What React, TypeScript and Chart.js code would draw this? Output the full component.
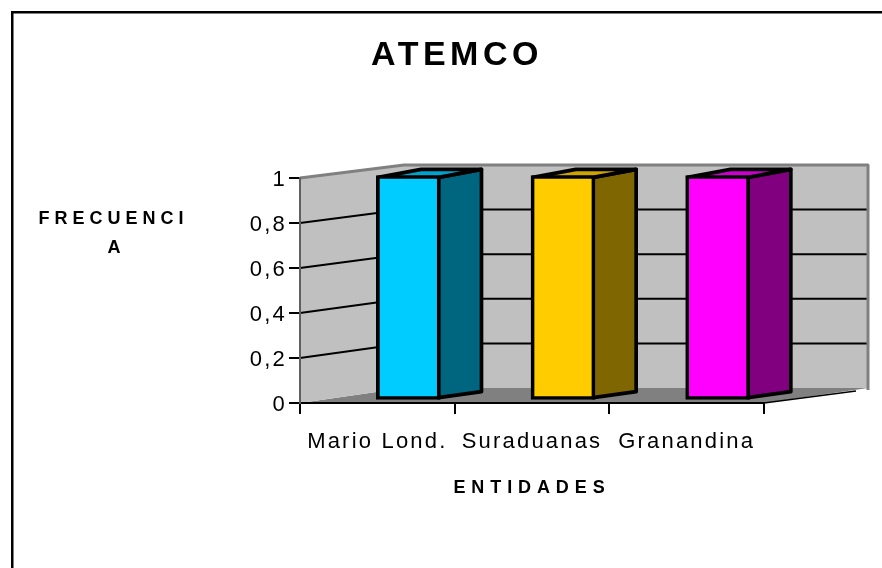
import React, { useEffect, useRef } from "react";
import { Chart, registerables } from "chart.js";

Chart.register(...registerables);

const titleText = "ATEMCO";
const yTitleLines = ["FRECUENCI", "A"];
const xTitleText = "ENTIDADES";
const categories = ["Mario Lond.", "Suraduanas", "Granandina"];
const values = [1, 1, 1];
const yTickLabels = ["0", "0,2", "0,4", "0,6", "0,8", "1"];
const frontColors = ["#00CCFF", "#FFCC00", "#FF00FF"];
const sideColors = ["#006680", "#806600", "#800080"];
const topColors = ["#00A3CC", "#CCA300", "#CC00CC"];

const FONT = "'Liberation Sans', Arial, sans-serif";
const WALL = "#C0C0C0";
const WALL_EDGE = "#808080";
const DEPTH = { x: 104, yTop: -13, yBottom: -15 };
const BAR_SHIFT = { x: 31, y: -2.5 };
const BAR_DEPTH = { x: 43, yTop: -8, yBottom: -6 };
const BAR_LINE = 3.7;
const TICK_SPACING = "2.2px";
const TITLE_SHIFT = 75;

const threeD = {
  id: "threeD",
  beforeDraw(chart: any) {
    const { ctx, scales, width, height } = chart;
    const x = scales.x;
    const y = scales.y;
    ctx.save();
    ctx.letterSpacing = "0px";
    ctx.fillStyle = "#FFFFFF";
    ctx.fillRect(0, 0, width, height);

    const L = x.left, R = x.right, T = y.top, B = y.bottom;
    const bx = L + DEPTH.x;
    const bxR = R + DEPTH.x;
    const backTop = T + DEPTH.yTop;
    const backBottom = B + DEPTH.yBottom;
    const toBack = (py: number) =>
      backBottom + ((py - B) * (backBottom - backTop)) / (B - T);

    // floor
    ctx.fillStyle = WALL_EDGE;
    ctx.beginPath();
    ctx.moveTo(L, B); ctx.lineTo(bx, backBottom); ctx.lineTo(bxR, backBottom); ctx.lineTo(R, B);
    ctx.closePath();
    ctx.fill();
    // back wall
    ctx.fillStyle = WALL;
    ctx.fillRect(bx, backTop, bxR - bx, backBottom - backTop);
    // left wall
    ctx.beginPath();
    ctx.moveTo(L, T); ctx.lineTo(bx, backTop); ctx.lineTo(bx, backBottom); ctx.lineTo(L, B);
    ctx.closePath();
    ctx.fill();

    // gridlines on both walls
    ctx.strokeStyle = "#000000";
    ctx.lineWidth = 2;
    y.ticks.forEach((_: any, i: number) => {
      if (i === 0 || i === y.ticks.length - 1) return;
      const py = y.getPixelForTick(i);
      const pb = toBack(py);
      ctx.beginPath();
      ctx.moveTo(L, py); ctx.lineTo(bx, pb); ctx.lineTo(bxR, pb);
      ctx.stroke();
    });

    // wall edges
    ctx.strokeStyle = WALL_EDGE;
    ctx.lineWidth = 3;
    ctx.lineJoin = "round";
    ctx.beginPath();
    ctx.moveTo(L, T); ctx.lineTo(bx, backTop); ctx.lineTo(bxR, backTop); ctx.lineTo(bxR, backBottom + 2);
    ctx.stroke();
    // floor front edge
    ctx.strokeStyle = "#000000";
    ctx.lineWidth = 1.5;
    ctx.beginPath();
    ctx.moveTo(R, B); ctx.lineTo(bxR - 12, backBottom + 3);
    ctx.stroke();
    ctx.restore();

    // value labels sit slightly below their tick in the reference
    y.getLabelItems().forEach((item: any, i: number) => {
      item.options.translation[1] = y.getPixelForTick(i) + 2;
    });
    ctx.letterSpacing = TICK_SPACING;
  },
  beforeDatasetsDraw(chart: any) {
    const { ctx } = chart;
    const bars = chart.getDatasetMeta(0).data;
    ctx.save();
    ctx.translate(BAR_SHIFT.x, BAR_SHIFT.y);
    ctx.strokeStyle = "#000000";
    ctx.lineWidth = BAR_LINE;
    ctx.lineJoin = "round";
    bars.forEach((bar: any, i: number) => {
      const inset = BAR_LINE / 2;
      const left = bar.x - bar.width / 2 + inset;
      const right = bar.x + bar.width / 2 - inset;
      const top = bar.y + inset;
      const bottom = bar.base - inset;
      ctx.fillStyle = sideColors[i];
      ctx.beginPath();
      ctx.moveTo(right, top);
      ctx.lineTo(right + BAR_DEPTH.x, top + BAR_DEPTH.yTop);
      ctx.lineTo(right + BAR_DEPTH.x, bottom + BAR_DEPTH.yBottom);
      ctx.lineTo(right, bottom);
      ctx.closePath();
      ctx.fill();
      ctx.stroke();
      ctx.fillStyle = topColors[i];
      ctx.beginPath();
      ctx.moveTo(left, top);
      ctx.lineTo(left + BAR_DEPTH.x, top + BAR_DEPTH.yTop);
      ctx.lineTo(right + BAR_DEPTH.x, top + BAR_DEPTH.yTop);
      ctx.lineTo(right, top);
      ctx.closePath();
      ctx.fill();
      ctx.stroke();
    });
  },
  afterDatasetsDraw(chart: any) {
    chart.ctx.restore();
  },
  afterDraw(chart: any) {
    const { ctx, width, height } = chart;
    ctx.save();
    // horizontal axis caption: the wider line sits a little left of the short one
    ctx.fillStyle = "#000000";
    ctx.textAlign = "center";
    ctx.textBaseline = "middle";
    ctx.font = `bold 18px ${FONT}`;
    ctx.letterSpacing = "5px";
    yTitleLines.forEach((line, i) =>
      ctx.fillText(line, i === 0 ? 113.5 : 116.5, 219 + i * 29)
    );
    // outer frame
    ctx.strokeStyle = "#000000";
    ctx.lineWidth = 2.5;
    ctx.beginPath();
    ctx.moveTo(12.25, height);
    ctx.lineTo(12.25, 12.25);
    ctx.lineTo(width, 12.25);
    ctx.stroke();
    ctx.restore();
  },
  afterLayout(chart: any) {
    const { ctx, titleBlock, scales } = chart;
    if (titleBlock && !titleBlock.__spaced) {
      titleBlock.__spaced = true;
      const draw = titleBlock.draw.bind(titleBlock);
      titleBlock.draw = () => {
        const prev = ctx.letterSpacing;
        ctx.save();
        ctx.translate(TITLE_SHIFT, 0);
        ctx.letterSpacing = "4.5px";
        draw();
        ctx.restore();
        ctx.letterSpacing = prev;
      };
    }
    const x = scales.x;
    if (x && !x.__spaced) {
      x.__spaced = true;
      const drawTitle = x.drawTitle.bind(x);
      x.drawTitle = () => {
        const prev = ctx.letterSpacing;
        ctx.letterSpacing = "5.9px";
        drawTitle();
        ctx.letterSpacing = prev;
      };
    }
  },
};

export default function App() {
  const ref = useRef<HTMLCanvasElement | null>(null);
  useEffect(() => {
    const chart = new Chart(ref.current as HTMLCanvasElement, {
      type: "bar",
      data: {
        labels: categories,
        datasets: [
          {
            data: values,
            backgroundColor: frontColors,
            borderColor: "#000000",
            borderWidth: BAR_LINE,
            borderSkipped: false,
            barThickness: 64,
            clip: false,
          } as any,
        ],
      },
      options: {
        responsive: false,
        animation: false,
        devicePixelRatio: 1,
        layout: { padding: { left: 0, right: 118, top: 0, bottom: 0 } },
        plugins: {
          legend: { display: false },
          tooltip: { enabled: false },
          title: {
            display: true,
            text: titleText,
            color: "#000000",
            font: { family: FONT, size: 34, weight: "bold", lineHeight: 1.2 },
            padding: { top: 35.5, bottom: 101.7 },
          },
        },
        scales: {
          x: {
            offset: true,
            afterFit(s: any) { s.height = 165; },
            grid: {
              offset: true,
              drawOnChartArea: false,
              tickLength: 11,
              tickColor: "#000000",
              lineWidth: 2,
            },
            border: { color: "#000000", width: 2 },
            ticks: {
              color: "#000000",
              padding: 15,
              maxRotation: 0,
              autoSkip: false,
              font: { family: FONT, size: 22 },
            },
            title: {
              display: true,
              text: xTitleText,
              color: "#000000",
              font: { family: FONT, size: 18, weight: "bold" },
              padding: { top: 0, bottom: 69 },
            },
          },
          y: {
            min: 0,
            max: 1,
            afterFit(s: any) { s.width = 300; },
            grid: {
              drawOnChartArea: false,
              tickLength: 11,
              tickColor: "#000000",
              lineWidth: 2,
            },
            border: { color: "#606060", width: 2 },
            ticks: {
              stepSize: 0.2,
              color: "#000000",
              padding: 2,
              font: { family: FONT, size: 22 },
              callback: (_v: any, i: number) => yTickLabels[i],
            },
          },
        },
      },
      plugins: [threeD],
    } as any);
    return () => chart.destroy();
  }, []);
  return (
    <div style={{ position: "fixed", left: 0, top: 0, width: 882, height: 568 }}>
      <canvas ref={ref} width={882} height={568} style={{ display: "block" }} />
    </div>
  );
}
